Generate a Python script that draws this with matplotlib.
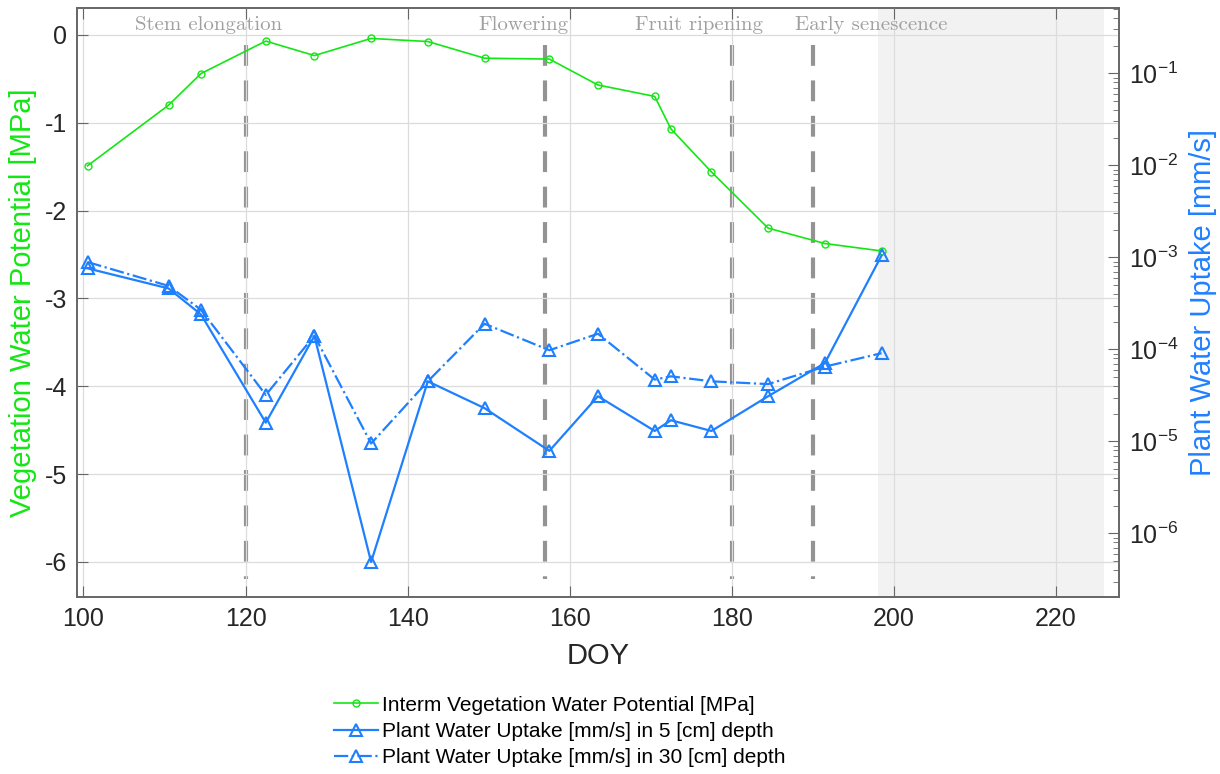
import matplotlib
matplotlib.use("Agg")
import matplotlib.pyplot as plt
from matplotlib.ticker import LogLocator, FixedLocator

# sample days (DOY)
doy = [100.5, 110.5, 114.5, 122.5, 128.5, 135.5, 142.5, 149.5,
       157.5, 163.5, 170.5, 172.5, 177.5, 184.5, 191.5, 198.5]

# interm vegetation water potential [MPa]
psi_veg = [-1.49, -0.80, -0.44, -0.07, -0.235, -0.04, -0.075, -0.265,
           -0.275, -0.57, -0.70, -1.07, -1.56, -2.20, -2.375, -2.46]

# plant water uptake [mm/s]
uptake_5cm = [7.6e-4, 4.6e-4, 2.4e-4, 1.6e-5, 1.4e-4, 4.9e-7, 4.5e-5, 2.3e-5,
              7.9e-6, 3.1e-5, 1.3e-5, 1.7e-5, 1.3e-5, 3.1e-5, 7.1e-5, 1.05e-3]
uptake_30cm = [8.9e-4, 4.9e-4, 2.7e-4, 3.2e-5, 1.41e-4, 9.5e-6, 4.5e-5, 1.9e-4,
               9.8e-5, 1.48e-4, 4.7e-5, 5.1e-5, 4.5e-5, 4.2e-5, 6.5e-5, 9.1e-5]

# growth stages
stage_lines = [120, 157, 180, 190]
stage_names = ["Stem elongation", "Flowering", "Fruit ripening", "Early senescence"]
stage_label_x = [115.5, 154.3, 176.0, 197.2]

# period with no data
shade_start, shade_end = 198, 226

GREEN = "#14e614"
BLUE = "#1f80ff"
SPINE = "#666666"
TXT = "#262626"


def main():
    plt.rcParams["font.family"] = ["Liberation Sans", "DejaVu Sans"]
    plt.rcParams["axes.unicode_minus"] = False
    plt.rcParams["mathtext.fontset"] = "custom"
    plt.rcParams["mathtext.rm"] = "Liberation Sans"
    plt.rcParams["mathtext.it"] = "Liberation Sans"
    plt.rcParams["mathtext.default"] = "regular"

    fig = plt.figure(figsize=(12.2, 7.74), dpi=100)
    ax = fig.add_axes([0.0631, 0.2287, 0.8541, 0.7610])
    ax2 = ax.twinx()

    ax.axvspan(shade_start, shade_end, color="#f2f2f2", lw=0, zorder=0.5)
    for x in stage_lines:
        ax.plot([x, x], [-0.12, -6.2], color="#939393", linewidth=3.0,
                dashes=(5, 3.5), zorder=2)
    for x, name in zip(stage_label_x, stage_names):
        ax.text(x, 0.11, name, ha="center", va="center", fontsize=15,
                family="cmr10", color="#a0a0a0", zorder=3)

    l1, = ax.plot(doy, psi_veg, "-o", color=GREEN, lw=1.2, ms=5,
                  mfc="none", mew=1.0, zorder=4,
                  label="Interm Vegetation Water Potential [MPa]")
    l2, = ax2.plot(doy, uptake_5cm, "-^", color=BLUE, lw=1.6, ms=9,
                   mfc="none", mew=1.5,
                   label="Plant Water Uptake [mm/s] in 5 [cm] depth")
    l3, = ax2.plot(doy, uptake_30cm, "-.^", color=BLUE, lw=1.6, ms=9,
                   mfc="none", mew=1.5,
                   label="Plant Water Uptake [mm/s] in 30 [cm] depth")

    ax.set_xlim(99.2, 227.8)
    ax.set_ylim(-6.40, 0.307)
    ax2.set_yscale("log")
    ax2.set_ylim(10 ** -6.69, 10 ** -0.29)

    ax.set_xticks([100, 120, 140, 160, 180, 200, 220])
    ax.set_yticks([0, -1, -2, -3, -4, -5, -6])
    ax.grid(True, color="#dcdcdc", linewidth=0.9)
    ax.set_axisbelow(False)

    ax2.yaxis.set_major_locator(FixedLocator([1e-6, 1e-5, 1e-4, 1e-3, 1e-2, 1e-1]))
    ax2.yaxis.set_minor_locator(LogLocator(base=10, subs=range(2, 10), numticks=20))

    ax.tick_params(axis="both", which="major", direction="in", length=8,
                   labelsize=18, colors=TXT, pad=7, top=True, right=False)
    ax.tick_params(axis="x", color=SPINE)
    ax.tick_params(axis="y", color=SPINE)
    ax2.tick_params(axis="y", which="major", direction="in", length=8,
                    labelsize=18, labelcolor=TXT, color=SPINE, pad=7)
    ax2.tick_params(axis="y", which="minor", direction="in", length=4,
                    color=SPINE)

    for a in (ax, ax2):
        for s in a.spines.values():
            s.set_color(SPINE)
            s.set_linewidth(1.2)

    ax.set_xlabel("DOY", fontsize=21, color=TXT, labelpad=8)
    ax.set_ylabel("Vegetation Water Potential [MPa]", fontsize=21,
                  color=GREEN, labelpad=6)
    ax2.set_ylabel("Plant Water Uptake [mm/s]", fontsize=21, color=BLUE,
                   labelpad=8)

    fig.legend(handles=[l1, l2, l3], loc="center",
               bbox_to_anchor=(0.4586, 0.055), frameon=False, fontsize=15,
               handlelength=2.1, handletextpad=0.2, labelspacing=0.35)

    fig.savefig("out.png", dpi=100)


if __name__ == "__main__":
    main()
